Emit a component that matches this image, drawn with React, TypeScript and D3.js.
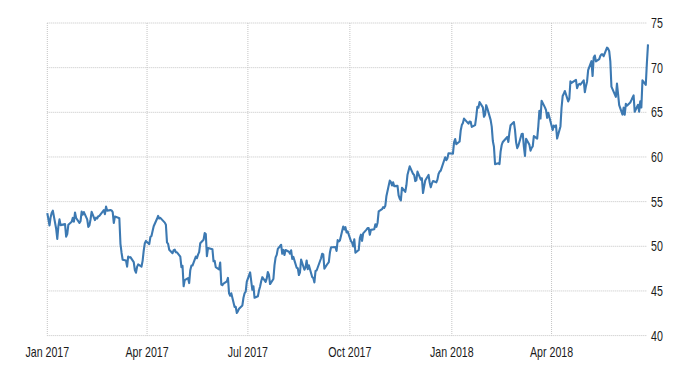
import React from "react";
import * as d3 from "d3";

const dates2017 = [
  "2017-01-01","2017-01-03","2017-01-04","2017-01-05","2017-01-06","2017-01-09","2017-01-10","2017-01-11","2017-01-12","2017-01-13","2017-01-17","2017-01-18","2017-01-19","2017-01-20","2017-01-23","2017-01-24","2017-01-25","2017-01-26","2017-01-27","2017-01-30","2017-01-31",
  "2017-02-01","2017-02-02","2017-02-03","2017-02-06","2017-02-07","2017-02-08","2017-02-09","2017-02-10","2017-02-13","2017-02-14","2017-02-15","2017-02-16","2017-02-17","2017-02-21","2017-02-22","2017-02-23","2017-02-24","2017-02-27","2017-02-28",
  "2017-03-01","2017-03-02","2017-03-03","2017-03-06","2017-03-07","2017-03-08","2017-03-09","2017-03-10","2017-03-13","2017-03-14","2017-03-15","2017-03-16","2017-03-17","2017-03-20","2017-03-21","2017-03-22","2017-03-23","2017-03-24","2017-03-27","2017-03-28","2017-03-29","2017-03-30","2017-03-31",
  "2017-04-03","2017-04-04","2017-04-05","2017-04-06","2017-04-07","2017-04-10","2017-04-11","2017-04-12","2017-04-13","2017-04-17","2017-04-18","2017-04-19","2017-04-20","2017-04-21","2017-04-24","2017-04-25","2017-04-26","2017-04-27","2017-04-28",
  "2017-05-01","2017-05-02","2017-05-03","2017-05-04","2017-05-05","2017-05-08","2017-05-09","2017-05-10","2017-05-11","2017-05-12","2017-05-15","2017-05-16","2017-05-17","2017-05-18","2017-05-19","2017-05-22","2017-05-23","2017-05-24","2017-05-25","2017-05-26","2017-05-30","2017-05-31",
  "2017-06-01","2017-06-02","2017-06-05","2017-06-06","2017-06-07","2017-06-08","2017-06-09","2017-06-12","2017-06-13","2017-06-14","2017-06-15","2017-06-16","2017-06-19","2017-06-20","2017-06-21","2017-06-22","2017-06-23","2017-06-26","2017-06-27","2017-06-28","2017-06-29","2017-06-30",
  "2017-07-03","2017-07-05","2017-07-06","2017-07-07","2017-07-10","2017-07-11","2017-07-12","2017-07-13","2017-07-14","2017-07-17","2017-07-18","2017-07-19","2017-07-20","2017-07-21","2017-07-24","2017-07-25","2017-07-26","2017-07-27","2017-07-28","2017-07-31",
  "2017-08-01","2017-08-02","2017-08-03","2017-08-04","2017-08-07","2017-08-08","2017-08-09","2017-08-10","2017-08-11","2017-08-14","2017-08-15","2017-08-16","2017-08-17","2017-08-18","2017-08-21","2017-08-22","2017-08-23","2017-08-24","2017-08-25","2017-08-28","2017-08-29","2017-08-30","2017-08-31",
  "2017-09-01","2017-09-05","2017-09-06","2017-09-07","2017-09-08","2017-09-11","2017-09-12","2017-09-13","2017-09-14","2017-09-15","2017-09-18","2017-09-19","2017-09-20","2017-09-21","2017-09-22","2017-09-25","2017-09-26","2017-09-27","2017-09-28","2017-09-29",
  "2017-10-02","2017-10-03","2017-10-04","2017-10-05","2017-10-06","2017-10-09","2017-10-10","2017-10-11","2017-10-12","2017-10-13","2017-10-16","2017-10-17","2017-10-18","2017-10-19","2017-10-20","2017-10-23","2017-10-24","2017-10-25","2017-10-26","2017-10-27","2017-10-30","2017-10-31",
  "2017-11-01","2017-11-02","2017-11-03","2017-11-06","2017-11-07","2017-11-08","2017-11-09","2017-11-10","2017-11-13","2017-11-14","2017-11-15","2017-11-16","2017-11-17","2017-11-20","2017-11-21","2017-11-22","2017-11-24","2017-11-27","2017-11-28","2017-11-29","2017-11-30",
  "2017-12-01","2017-12-04","2017-12-05","2017-12-06","2017-12-07","2017-12-08","2017-12-11","2017-12-12","2017-12-13","2017-12-14","2017-12-15","2017-12-18","2017-12-19","2017-12-20","2017-12-21","2017-12-22","2017-12-26","2017-12-27","2017-12-28","2017-12-29"
];

const prices2017 = [
  53.72,52.33,53.26,53.76,53.99,51.96,50.82,52.25,53.01,52.37,52.48,51.08,51.37,52.42,52.75,53.18,52.75,53.78,53.17,52.63,52.81,
  53.88,53.54,53.83,53.01,52.17,52.34,53.0,53.86,52.93,53.2,53.11,53.36,53.4,54.06,53.59,54.45,53.99,54.05,54.01,
  53.83,52.61,53.33,53.2,53.14,50.28,49.28,48.49,48.4,47.72,48.86,48.75,48.78,48.22,47.34,47.04,47.7,47.97,47.73,48.37,49.51,50.35,50.6,
  50.24,51.03,51.15,51.7,52.24,53.08,53.4,53.11,53.18,52.65,52.41,50.44,50.27,49.62,49.23,49.56,49.62,49.33,49.33,
  48.84,47.66,47.82,45.52,46.22,46.43,45.88,47.33,47.83,47.84,48.85,48.66,49.07,49.35,50.33,50.73,51.47,51.36,48.9,49.8,49.66,48.32,
  48.36,47.66,47.4,48.19,45.72,45.64,45.83,46.08,46.46,44.73,44.46,44.74,43.2,43.23,42.53,42.74,43.01,43.38,44.24,44.74,44.93,46.04,
  47.07,45.13,45.52,44.23,44.4,45.04,45.49,46.08,46.54,46.02,46.4,47.12,46.79,45.77,46.34,47.89,48.75,49.04,49.71,50.17,
  49.16,49.59,49.03,49.58,49.39,49.17,49.56,48.59,48.82,47.59,47.55,46.78,47.09,48.51,47.37,47.64,48.41,47.43,47.87,46.57,46.44,45.96,47.23,
  47.29,48.66,49.16,49.09,47.48,48.07,48.23,49.3,49.89,49.89,49.91,49.48,50.69,50.55,50.66,52.22,51.88,52.14,51.56,51.67,
  50.58,50.42,49.98,50.79,49.29,49.58,50.92,51.3,50.6,51.45,51.87,52.04,52.04,51.29,51.84,51.9,52.47,52.18,52.64,53.9,54.15,54.38,
  54.3,54.54,55.64,57.35,57.2,56.81,57.17,56.74,56.76,55.7,55.33,55.14,56.55,56.09,56.83,58.02,58.95,58.11,57.99,57.3,57.4,
  58.36,57.47,57.62,55.96,56.69,57.36,57.99,57.14,56.6,57.04,57.3,57.16,57.46,58.09,58.36,58.47,59.97,59.64,59.84,60.42
];

const dates2018 = [
  "2018-01-02","2018-01-03","2018-01-04","2018-01-05","2018-01-08","2018-01-09","2018-01-10","2018-01-11","2018-01-12","2018-01-16","2018-01-17","2018-01-18","2018-01-19","2018-01-22","2018-01-23","2018-01-24","2018-01-25","2018-01-26","2018-01-29","2018-01-30","2018-01-31",
  "2018-02-01","2018-02-02","2018-02-05","2018-02-06","2018-02-07","2018-02-08","2018-02-09","2018-02-12","2018-02-13","2018-02-14","2018-02-15","2018-02-16","2018-02-20","2018-02-21","2018-02-22","2018-02-23","2018-02-26","2018-02-27","2018-02-28",
  "2018-03-01","2018-03-02","2018-03-05","2018-03-06","2018-03-07","2018-03-08","2018-03-09","2018-03-12","2018-03-13","2018-03-14","2018-03-15","2018-03-16","2018-03-19","2018-03-20","2018-03-21","2018-03-22","2018-03-23","2018-03-26","2018-03-27","2018-03-28","2018-03-29",
  "2018-04-02","2018-04-03","2018-04-04","2018-04-05","2018-04-06","2018-04-09","2018-04-10","2018-04-11","2018-04-12","2018-04-13","2018-04-16","2018-04-17","2018-04-18","2018-04-19","2018-04-20","2018-04-23","2018-04-24","2018-04-25","2018-04-26","2018-04-27","2018-04-30",
  "2018-05-01","2018-05-02","2018-05-03","2018-05-04","2018-05-07","2018-05-08","2018-05-09","2018-05-10","2018-05-11","2018-05-14","2018-05-15","2018-05-16","2018-05-17","2018-05-18","2018-05-21","2018-05-22","2018-05-23","2018-05-24","2018-05-25","2018-05-29","2018-05-30","2018-05-31",
  "2018-06-01","2018-06-04","2018-06-05","2018-06-06","2018-06-07","2018-06-08","2018-06-11","2018-06-12","2018-06-13","2018-06-14","2018-06-15","2018-06-18","2018-06-19","2018-06-20","2018-06-21","2018-06-22","2018-06-25","2018-06-26","2018-06-27"
];

const prices2018 = [
  60.37,61.63,62.01,61.44,61.73,62.96,63.57,63.8,64.3,63.73,63.97,63.95,63.37,63.57,64.47,65.61,65.51,66.14,65.56,64.5,64.73,
  65.8,65.45,64.15,63.39,61.79,61.15,59.2,59.29,59.19,60.6,61.34,61.68,62.24,61.68,62.77,63.55,63.91,63.01,61.64,
  60.99,61.25,62.57,62.6,61.15,60.12,62.04,61.36,60.71,61.02,61.19,62.34,62.06,63.4,65.17,64.3,66.3,65.55,65.25,64.38,64.94,
  63.01,63.51,63.37,63.54,62.06,63.42,65.51,66.82,67.07,67.39,66.22,66.52,68.47,68.29,68.38,68.64,67.7,68.05,68.19,68.1,68.57,
  67.25,67.93,68.43,69.72,70.73,69.06,71.14,71.36,70.7,70.96,71.31,71.49,71.49,71.28,72.24,72.13,71.84,70.71,67.88,66.73,68.21,67.04,
  65.81,64.75,65.52,64.73,65.95,65.74,66.1,66.36,66.64,66.89,65.06,65.85,65.07,66.22,65.54,68.58,68.08,70.53,72.6
];

const xTickDates = ["2017-01-01","2017-04-01","2017-07-01","2017-10-01","2018-01-01","2018-04-01"];
const xTickLabels = ["Jan 2017","Apr 2017","Jul 2017","Oct 2017","Jan 2018","Apr 2018"];
const yTicks = [40, 45, 50, 55, 60, 65, 70, 75];

const parse = d3.utcParse("%Y-%m-%d");

export default function App() {
  const W = 700, H = 375;
  const x0 = 47.3, x1 = 648;
  const yBottom = 335.6, yTop = 23;
  const gridRight = 646.5;

  const allDates = [...dates2017, ...dates2018].map((d) => parse(d) as Date);
  const allPrices = [...prices2017, ...prices2018];
  const data = allDates.map((d, i) => ({ d, v: allPrices[i] }));

  const x = d3.scaleUtc().domain([parse("2017-01-01") as Date, parse("2018-06-27") as Date]).range([x0, x1]);
  const y = d3.scaleLinear().domain([40, 75]).range([yBottom, yTop]);

  const line = d3.line<{ d: Date; v: number }>().x((p) => x(p.d)).y((p) => y(p.v));

  const font = "'Liberation Sans', Arial, sans-serif";
  const gridColor = "#c4c4c4";
  const sx = 0.76;
  const fs = 14;

  return (
    <svg width={W} height={H} style={{ position: "absolute", left: 0, top: 0, background: "#fff" }}>
      <rect x={0} y={0} width={W} height={H} fill="#fff" />
      {yTicks.map((t) => (
        <line key={"h" + t} x1={x0} x2={gridRight} y1={y(t)} y2={y(t)} stroke={gridColor} strokeWidth={1} strokeDasharray="1 1" />
      ))}
      {xTickDates.map((s) => {
        const xx = x(parse(s) as Date);
        return <line key={"v" + s} x1={xx} x2={xx} y1={yTop} y2={yBottom} stroke={gridColor} strokeWidth={1} strokeDasharray="1 1" />;
      })}
      <path d={line(data) || ""} fill="none" stroke="#3c79b2" strokeWidth={2.1} strokeLinejoin="round" />
      {yTicks.map((t) => (
        <text key={"yl" + t} transform={`translate(651,${y(t)}) scale(${sx},1)`} dy="0.36em" fontFamily={font} fontSize={fs} fill="#1a1a1a">
          {t}
        </text>
      ))}
      {xTickDates.map((s, i) => (
        <text key={"xl" + s} transform={`translate(${x(parse(s) as Date)},357) scale(${sx},1)`} textAnchor="middle" fontFamily={font} fontSize={fs} fill="#1a1a1a">
          {xTickLabels[i]}
        </text>
      ))}
    </svg>
  );
}
